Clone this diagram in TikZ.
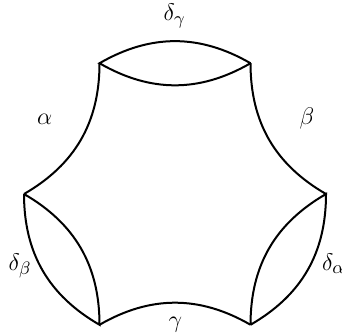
\documentclass[tikz,border=0pt]{standalone}
\usepackage{amsmath, amssymb}
\usepackage{tikz}
\usetikzlibrary{calc, positioning}

\begin{document}
\begin{tikzpicture}[
  seam/.style={line width=1pt, black},
  lbl/.style={font=\fontsize{13}{16}\selectfont, anchor=base west, inner sep=0pt}
]
  % Frame
  \useasboundingbox (-3.076,-2.478) rectangle (2.935,3.410);
  % Corners of the hexagon
  \foreach \a/\n in {0/r, 60/tr, 120/tl, 180/l, 240/bl, 300/br}
    \coordinate (\n) at (\a:2.654);
  % Geodesic sides
  \draw[seam] (tl) to[bend left=30] (l);
  \draw[seam] (bl) to[bend left=30] (br);
  \draw[seam] (r) to[bend left=30] (tr);
  % Boundary lenses
  \draw[seam] (tr) to[bend left=30] (tl) to[bend left=30] (tr);
  \draw[seam] (l) to[bend left=30] (bl) to[bend left=30] (l);
  \draw[seam] (br) to[bend left=30] (r) to[bend left=30] (br);
  % Labels
  \node[lbl] (dg) at (-0.206,3.049) {$\delta_\gamma$};
  \node[lbl] (al) at (-2.431,1.230) {$\alpha$};
  \node[lbl] (be) at (2.185,1.213) {$\beta$};
  \node[lbl] (db) at (-2.930,-1.336) {$\delta_\beta$};
  \node[lbl] (da) at (2.578,-1.336) {$\delta_\alpha$};
  \node[lbl] (ga) at (-0.118,-2.355) {$\gamma$};
\end{tikzpicture}
\end{document}
